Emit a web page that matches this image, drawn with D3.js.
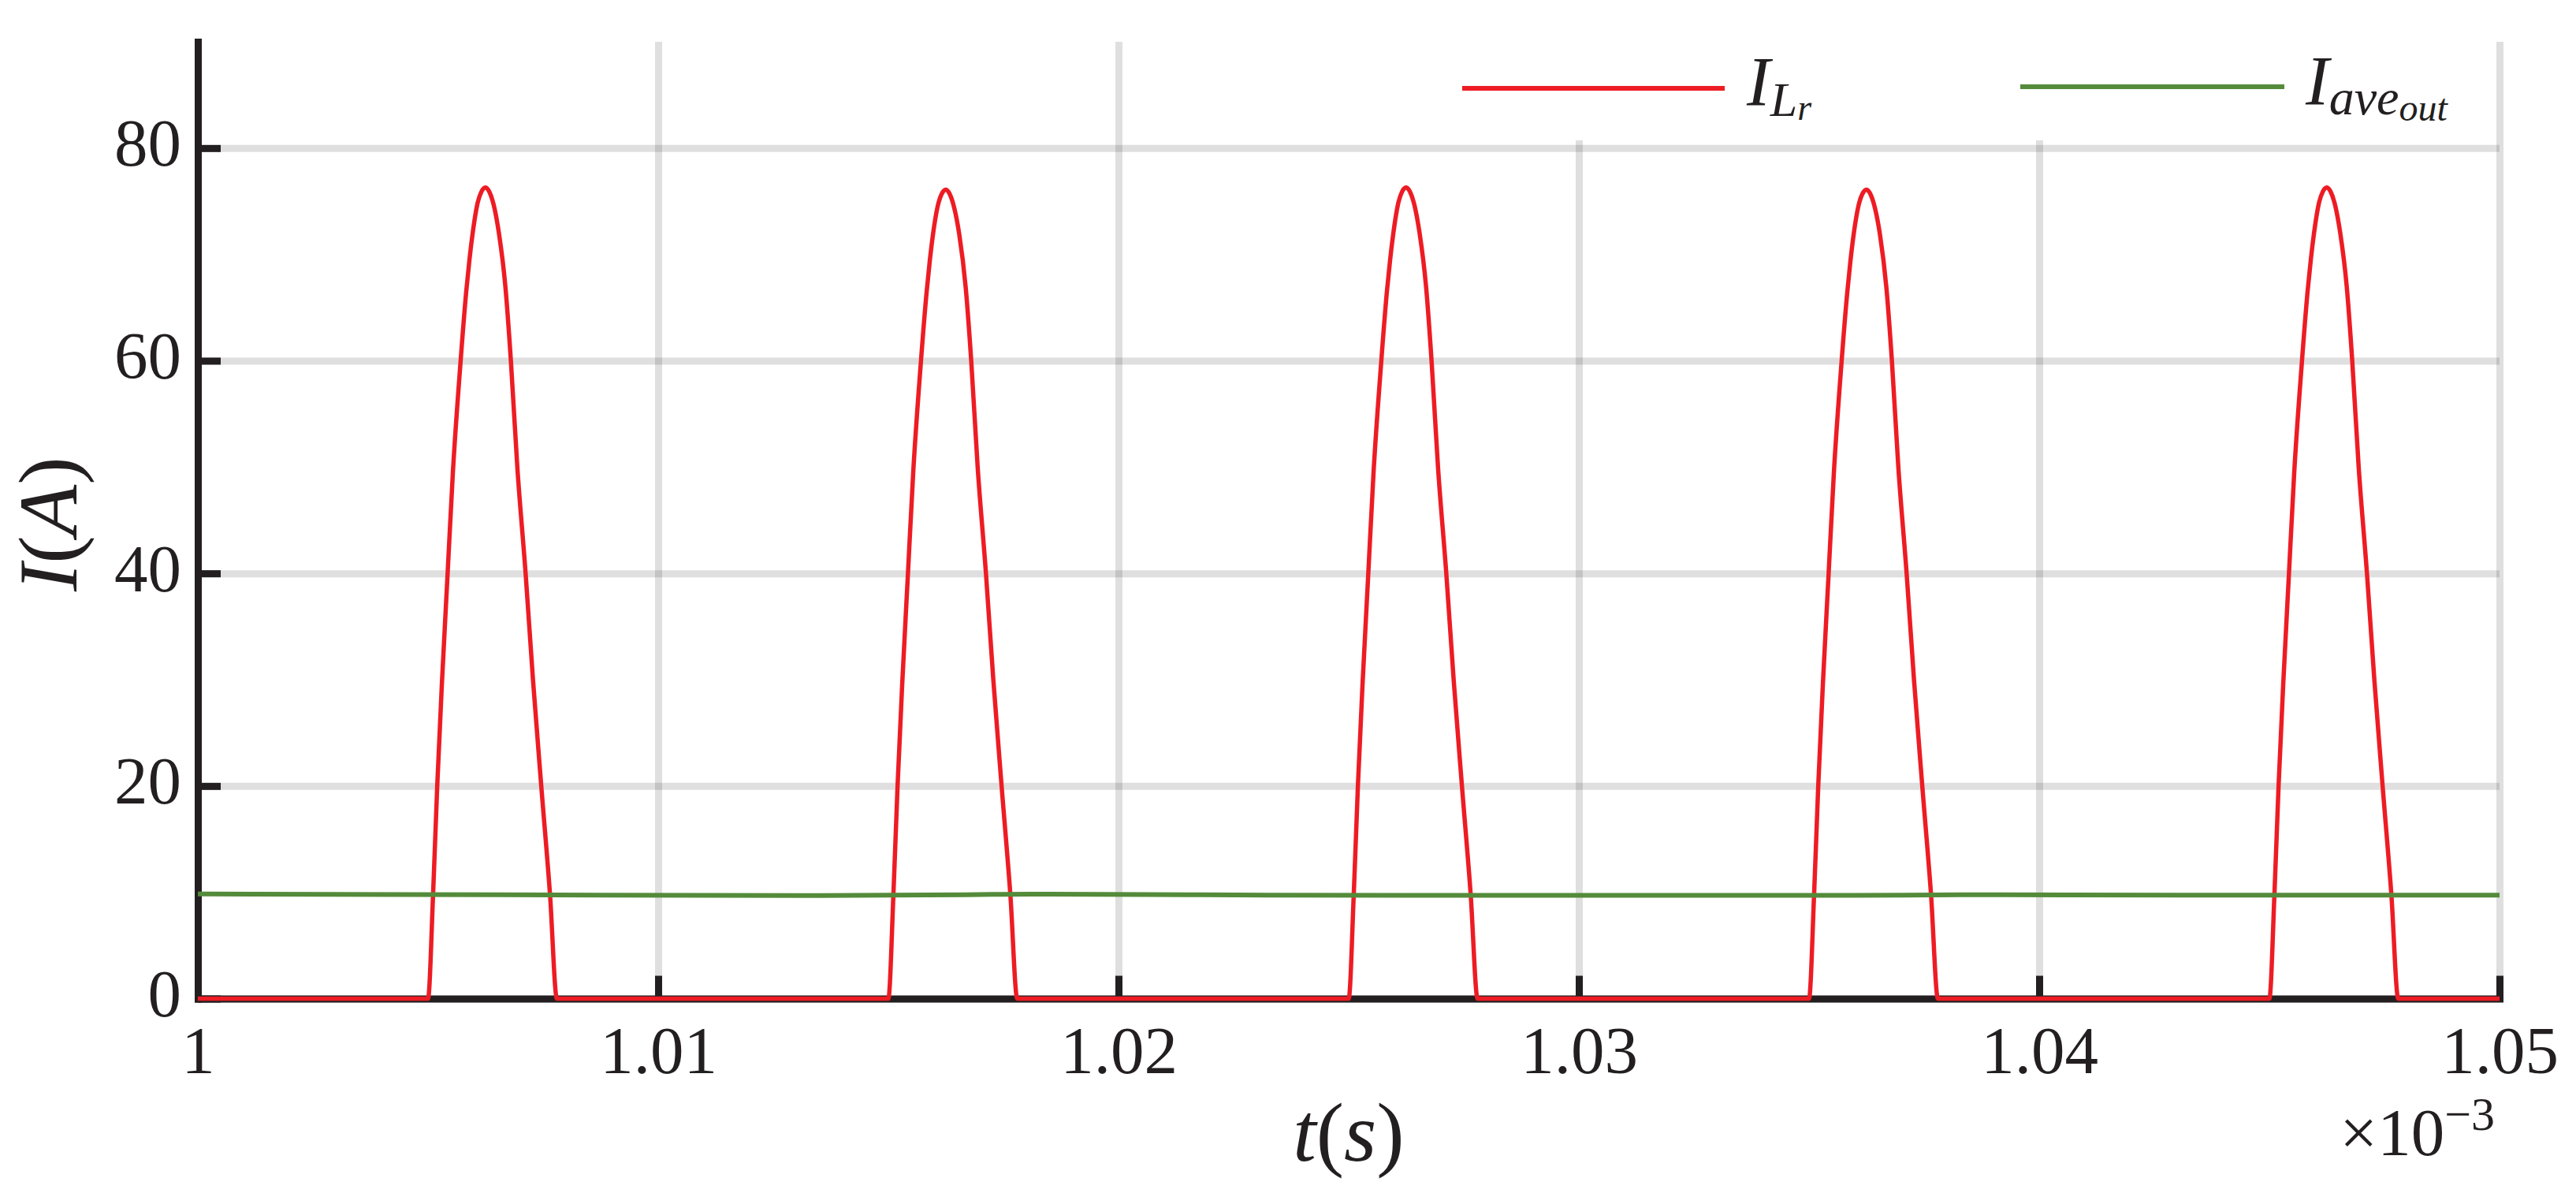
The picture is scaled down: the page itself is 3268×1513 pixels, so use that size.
<!DOCTYPE html>
<html>
<head>
<meta charset="utf-8">
<script src="https://cdn.jsdelivr.net/npm/d3@7"></script>
<style>
    body { margin: 0; background: #ffffff; }
    text { font-family: "Liberation Serif", "Times New Roman", serif; fill: #231f20; }
</style>
</head>
<body>
<script>
// time axis is in units of 10^-3 s
var lrTime = [
    1.00000,
    1.00500, 1.00511, 1.00520, 1.00530, 1.00542, 1.00554, 1.00570, 1.00583, 1.00590, 1.00597, 1.00607, 1.00616,
    1.00625, 1.00633, 1.00643, 1.00654, 1.00668, 1.00680, 1.00694, 1.00712, 1.00728, 1.00746, 1.00765, 1.00780,
    1.01500, 1.01511, 1.01520, 1.01530, 1.01542, 1.01554, 1.01570, 1.01583, 1.01590, 1.01597, 1.01607, 1.01616,
    1.01625, 1.01633, 1.01643, 1.01654, 1.01668, 1.01680, 1.01694, 1.01712, 1.01728, 1.01746, 1.01765, 1.01780,
    1.02500, 1.02511, 1.02520, 1.02530, 1.02542, 1.02554, 1.02570, 1.02583, 1.02590, 1.02597, 1.02607, 1.02616,
    1.02625, 1.02633, 1.02643, 1.02654, 1.02668, 1.02680, 1.02694, 1.02712, 1.02728, 1.02746, 1.02765, 1.02780,
    1.03500, 1.03511, 1.03520, 1.03530, 1.03542, 1.03554, 1.03570, 1.03583, 1.03590, 1.03597, 1.03607, 1.03616,
    1.03625, 1.03633, 1.03643, 1.03654, 1.03668, 1.03680, 1.03694, 1.03712, 1.03728, 1.03746, 1.03765, 1.03780,
    1.04500, 1.04511, 1.04520, 1.04530, 1.04542, 1.04554, 1.04570, 1.04583, 1.04590, 1.04597, 1.04607, 1.04616,
    1.04625, 1.04633, 1.04643, 1.04654, 1.04668, 1.04680, 1.04694, 1.04712, 1.04728, 1.04746, 1.04765, 1.04780,
    1.05000
];
var lrCurrent = [
    0,
    0, 9.8, 20, 29.5, 39.5, 49.5, 59.5, 66.5, 69.5, 72.0, 74.7, 75.9,
    76.3, 75.9, 74.6, 72.0, 67.0, 60, 50, 40, 30, 20, 9.8, 0,
    0, 9.8, 20, 29.5, 39.5, 49.5, 59.5, 66.4, 69.4, 71.9, 74.5, 75.7,
    76.1, 75.7, 74.4, 71.9, 66.9, 60, 50, 40, 30, 20, 9.8, 0,
    0, 9.8, 20, 29.5, 39.5, 49.5, 59.5, 66.5, 69.5, 72.0, 74.7, 75.9,
    76.3, 75.9, 74.6, 72.0, 67.0, 60, 50, 40, 30, 20, 9.8, 0,
    0, 9.8, 20, 29.5, 39.5, 49.5, 59.5, 66.4, 69.4, 71.9, 74.5, 75.7,
    76.1, 75.7, 74.4, 71.9, 66.9, 60, 50, 40, 30, 20, 9.8, 0,
    0, 9.8, 20, 29.5, 39.5, 49.5, 59.5, 66.5, 69.5, 72.0, 74.7, 75.9,
    76.3, 75.9, 74.6, 72.0, 67.0, 60, 50, 40, 30, 20, 9.8, 0,
    0
];

var aveTime = [1.0000, 1.0012, 1.0066, 1.0135, 1.0167, 1.0181, 1.0215, 1.0265, 1.0335, 1.0360, 1.0385, 1.0430, 1.0500];
var aveCurrent = [9.84, 9.83, 9.77, 9.70, 9.78, 9.83, 9.77, 9.71, 9.71, 9.72, 9.77, 9.74, 9.73];

var xTicks = [1, 1.01, 1.02, 1.03, 1.04, 1.05];
var yTicks = [0, 20, 40, 60, 80];
var xDomain = [1, 1.05];
var yDomain = [0, 90];

var lrColor = "#ed1c24";
var aveColor = "#548b3b";

function draw_chart() {
    var W = 3268, H = 1513;
    var margin = { top: 53, right: 97, bottom: 246.5, left: 251 };
    var width = W - margin.left - margin.right;
    var height = H - margin.top - margin.bottom;

    var root = d3.select("body").append("svg")
        .attr("width", W)
        .attr("height", H)
        .style("display", "block");

    var svg = root.append("g")
        .attr("transform", "translate(" + margin.left + "," + margin.top + ")");

    var x = d3.scaleLinear().domain(xDomain).range([0, width]);
    var y = d3.scaleLinear().domain(yDomain).range([height, 0]);

    // grid
    var gridX = svg.append("g")
        .attr("class", "grid x")
        .attr("transform", "translate(0," + height + ")")
        .call(d3.axisBottom(x).tickValues(xTicks).tickSize(-height).tickFormat(""));
    var gridY = svg.append("g")
        .attr("class", "grid y")
        .call(d3.axisLeft(y).tickValues(yTicks).tickSize(-width).tickFormat(""));
    [gridX, gridY].forEach(function(g) {
        g.select(".domain").remove();
        g.selectAll("line")
            .style("stroke", "#262626")
            .style("stroke-opacity", 0.15)
            .style("stroke-width", "9px");
    });

    // axes (ticks pointing inward)
    var xAxis = d3.axisBottom(x)
        .tickValues(xTicks)
        .tickSizeInner(-29)
        .tickSizeOuter(0)
        .tickPadding(34)
        .tickFormat(function(d) { return d === 1 ? "1" : d.toFixed(2); });

    var yAxis = d3.axisLeft(y)
        .tickValues(yTicks)
        .tickSizeInner(-29)
        .tickSizeOuter(0)
        .tickPadding(21)
        .tickFormat(d3.format("d"));

    var gx = svg.append("g")
        .attr("class", "x axis")
        .attr("transform", "translate(0," + height + ")")
        .call(xAxis);

    var gy = svg.append("g")
        .attr("class", "y axis")
        .call(yAxis);

    [gx, gy].forEach(function(g) {
        g.attr("color", "#231f20")
            .attr("font-size", 85)
            .attr("font-family", '"Liberation Serif", serif');
        g.select(".domain")
            .style("stroke-width", "9px")
            .style("stroke-linecap", "square");
        g.selectAll(".tick line").style("stroke-width", "9px");
        g.selectAll(".tick text").style("fill", "#231f20");
    });
    gy.selectAll(".tick text").attr("dy", "0.26em");

    // curves
    var line = d3.line()
        .x(function(d) { return x(d.t); })
        .y(function(d) { return y(d.i); })
        .curve(d3.curveMonotoneX);

    var lrData = lrTime.map(function(t, k) { return { t: t, i: lrCurrent[k] }; });
    var aveData = aveTime.map(function(t, k) { return { t: t, i: aveCurrent[k] }; });

    svg.append("path")
        .datum(lrData)
        .attr("class", "line_lr")
        .attr("d", line)
        .style("fill", "none")
        .style("stroke", lrColor)
        .style("stroke-width", "5.5px")
        .style("stroke-linejoin", "round");

    svg.append("path")
        .datum(aveData)
        .attr("class", "line_ave")
        .attr("d", line)
        .style("fill", "none")
        .style("stroke", aveColor)
        .style("stroke-width", "6px");

    // axis titles
    var xt = root.append("text")
        .attr("x", margin.left + width / 2)
        .attr("y", 1472)
        .attr("text-anchor", "middle")
        .attr("font-size", 106);
    xt.append("tspan").style("font-style", "italic").text("t");
    xt.append("tspan").text("(");
    xt.append("tspan").style("font-style", "italic").text("s");
    xt.append("tspan").text(")");

    var yt = root.append("text")
        .attr("transform", "translate(97," + (margin.top + height / 2 + 5) + ") rotate(-90)")
        .attr("text-anchor", "middle")
        .attr("font-size", 106);
    yt.append("tspan").style("font-style", "italic").text("I");
    yt.append("tspan").text("(");
    yt.append("tspan").style("font-style", "italic").text("A");
    yt.append("tspan").text(")");

    // exponent label
    var ex = root.append("text")
        .attr("x", 3165)
        .attr("y", 1465)
        .attr("text-anchor", "end")
        .attr("font-size", 85);
    ex.append("tspan").text("\u00d710");
    ex.append("tspan").attr("font-size", 60).attr("dy", -32).text("\u22123");

    // legend
    var legend = root.append("g").attr("class", "legend");
    legend.append("rect")
        .attr("x", 1830).attr("y", 44)
        .attr("width", 1320).attr("height", 134)
        .style("fill", "#ffffff");

    legend.append("line")
        .attr("x1", 1855).attr("x2", 2188)
        .attr("y1", 112).attr("y2", 112)
        .style("stroke", lrColor).style("stroke-width", "6px");
    var l1 = legend.append("text")
        .attr("x", 2216).attr("y", 133)
        .attr("font-size", 89)
        .style("font-style", "italic");
    l1.append("tspan").text("I");
    l1.append("tspan").attr("font-size", 62).attr("dy", 14).text("L");
    l1.append("tspan").attr("font-size", 46).attr("dy", 5).text("r");

    legend.append("line")
        .attr("x1", 2563).attr("x2", 2898)
        .attr("y1", 110).attr("y2", 110)
        .style("stroke", aveColor).style("stroke-width", "6px");
    var l2 = legend.append("text")
        .attr("x", 2925).attr("y", 132)
        .attr("font-size", 89)
        .style("font-style", "italic");
    l2.append("tspan").text("I");
    l2.append("tspan").attr("font-size", 64).attr("dy", 13).text("ave");
    l2.append("tspan").attr("font-size", 48).attr("dy", 8).text("out");
}

draw_chart();
</script>
</body>
</html>
